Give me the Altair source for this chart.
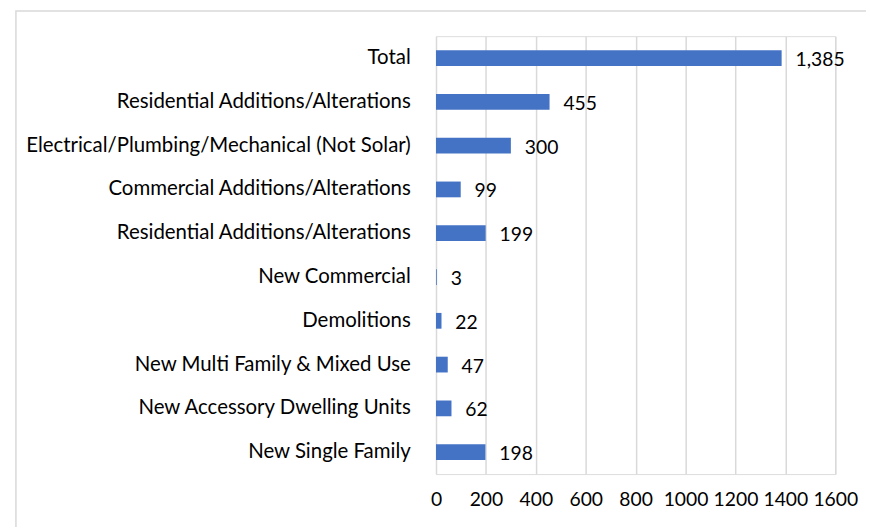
import json
import altair as alt
import pandas as pd

categories = [
    "Total",
    "Residential Additions/Alterations",
    "Electrical/Plumbing/Mechanical (Not Solar)",
    "Commercial Additions/Alterations",
    "Residential Additions/Alterations",
    "New Commercial",
    "Demolitions",
    "New Multi Family & Mixed Use",
    "New Accessory Dwelling Units",
    "New Single Family",
]
values = [1385, 455, 300, 99, 199, 3, 22, 47, 62, 198]
x_ticks = [0, 200, 400, 600, 800, 1000, 1200, 1400, 1600]

df = pd.DataFrame({"i": list(range(len(categories))), "cat": categories, "v": values})
df["lbl"] = df["v"].map(lambda v: f"{v:,}")

FONT = "Lato"
FS = 19.5
FS_CAT = 20.6
label_expr = json.dumps(categories) + "[datum.value]"

base = alt.Chart(df)

y_enc = alt.Y(
    "i:O",
    sort="ascending",
    scale=alt.Scale(paddingInner=0.64, paddingOuter=0.32),
    axis=alt.Axis(
        title=None, labelExpr=label_expr, ticks=False, domain=False,
        labelFont=FONT, labelFontSize=FS_CAT, labelColor="#000000",
        labelPadding=26, labelLimit=500, grid=False,
    ),
)

bars = base.mark_bar(color="#4472C4").encode(
    x=alt.X(
        "v:Q",
        scale=alt.Scale(domain=[0, 1600], nice=False),
        axis=alt.Axis(
            values=x_ticks, title=None, ticks=False, domain=False,
            labelFont=FONT, labelFontSize=FS, labelColor="#000000",
            labelPadding=17, gridColor="#d9d9d9", gridWidth=1.5, format="d",
            labelOverlap=False, labelFlush=False,
        ),
    ),
    y=y_enc,
)

texts = base.mark_text(
    align="left", baseline="middle", dx=14, dy=2, font=FONT, fontSize=FS, color="#000000"
).encode(x="v:Q", y=alt.Y("i:O", sort="ascending"), text="lbl:N")

border = alt.Chart(pd.DataFrame({"a": [0]})).mark_rect(
    fill=None, stroke="#d9d9d9", strokeWidth=1.5
).encode(
    x=alt.value(-424), x2=alt.value(1000), y=alt.value(-25.5), y2=alt.value(1000)
)

chart = (
    alt.layer(bars, texts, border)
    .properties(
        width=403, height=442,
        autosize=alt.AutoSizeParams(type="none"),
        padding={"left": 432, "top": 26, "right": 31, "bottom": 51},
    )
    .configure_view(stroke=None, clip=False)
    .configure(background="#ffffff")
)

chart.save("out.html", embed_options={"renderer": "svg", "actions": False})
